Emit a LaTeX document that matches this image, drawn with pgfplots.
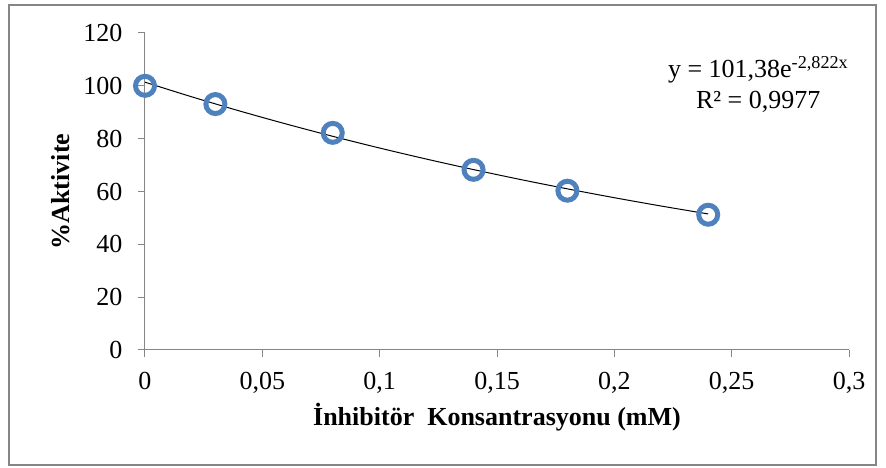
\documentclass[border=0pt]{standalone}
\usepackage{pgfplots}
\pgfplotsset{compat=1.18}
\usepackage{fontspec}
\setmainfont{Liberation Serif}
\definecolor{mk}{HTML}{4F81BD}
\definecolor{ax}{HTML}{868686}
\begin{document}
\begin{tikzpicture}[x=1pt,y=1pt]
\path[use as bounding box] (-145,-118) rectangle (741,350);
\begin{axis}[at={(0,0)},anchor=south west,
  scale only axis, width=704pt, height=317pt,
  xmin=0, xmax=0.3, ymin=0, ymax=120,
  xtick={0,0.05,0.1,0.15,0.2,0.25,0.3},
  ytick={0,20,40,60,80,100,120},
  axis x line=bottom, axis y line=left,
  axis line style={ax, line width=1pt, -},
  tick style={ax, line width=1pt},
  tick align=outside, major tick length=7pt,
  /pgf/number format/use comma,
  /pgf/number format/assume math mode=true,
  /pgf/number format/fixed,
  ticklabel style={font=\fontsize{26}{30}\selectfont, black},
  xticklabel style={yshift=-12pt},
  yticklabel style={xshift=-12pt},
  xlabel={\textbf{İnhibitör\ \ Konsantrasyonu (mM)}},
  ylabel={\textbf{\%Aktivite}},
  label style={font=\fontsize{26}{30}\selectfont},
  xlabel style={yshift=-3pt},
  ylabel style={yshift=7pt},
  clip=false,
]
\addplot[only marks, mark=o, mark size=9.5pt, mark options={mk, line width=5pt}]
  coordinates {(0,100) (0.03,93.1) (0.08,82.2) (0.14,68.2) (0.18,60.3) (0.24,51.2)};
\addplot[black, line width=1pt, smooth] coordinates {
  (0,101.38) (0.02,95.82) (0.04,90.56) (0.06,85.59) (0.08,80.89) (0.10,76.45)
  (0.12,72.26) (0.14,68.29) (0.16,64.54) (0.18,61.00) (0.20,57.65)
  (0.22,54.49) (0.24,51.50)};
\node[anchor=base, font=\fontsize{26}{30}\selectfont] at (rel axis cs:0.871,0.861) {y = 101,38e\textsuperscript{-2,822x}};
\node[anchor=base, font=\fontsize{26}{30}\selectfont] at (rel axis cs:0.871,0.763) {R² = 0,9977};
\end{axis}
\draw[ax, line width=1.5pt] (-136,-115) rectangle (731,345);
\end{tikzpicture}
\end{document}
